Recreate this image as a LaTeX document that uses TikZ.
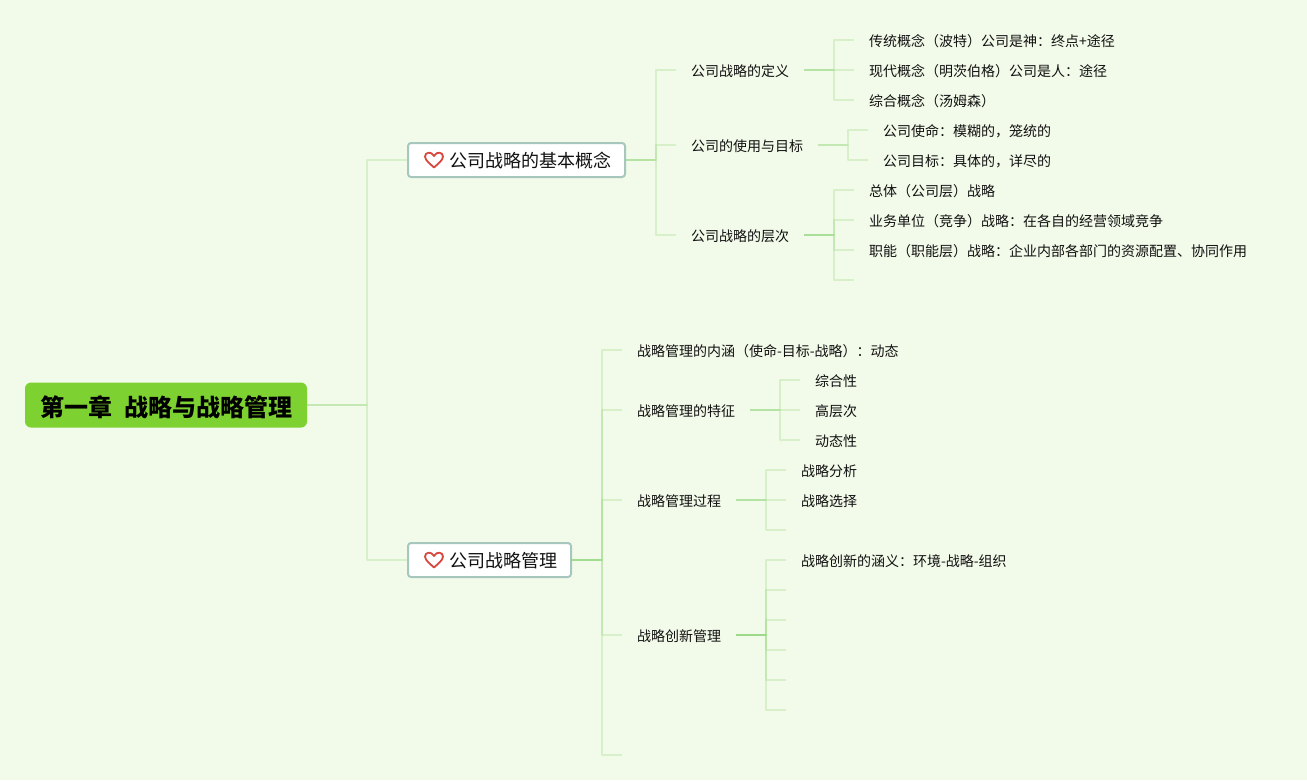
\documentclass[tikz,border=0pt]{standalone}
\usepackage{fontspec}
\setmainfont{Noto Sans CJK SC}
\definecolor{bgc}{HTML}{F2FAE9}
\definecolor{rootc}{HTML}{7DD231}
\definecolor{linec}{HTML}{8FD67A}
\definecolor{boxc}{HTML}{A6C6BE}
\definecolor{heartc}{HTML}{D8483F}
\definecolor{inkc}{HTML}{111111}
\tikzset{
  x=1pt,y=-1pt,
  link/.style={draw=linec,draw opacity=.27,line width=2pt,line join=round},
  rootnode/.style={anchor=west,fill=rootc,rounded corners=6pt,inner xsep=15pt,inner ysep=0pt,minimum height=45pt,outer sep=0pt,text height=24pt,text depth=1.8pt,font=\fontsize{24pt}{28pt}\selectfont\bfseries,text=black},
  mainnode/.style={anchor=west,draw=boxc,fill=white,line width=2pt,rounded corners=3pt,inner xsep=14pt,inner ysep=0pt,minimum height=34pt,text height=18pt,text depth=2.3pt,font=\fontsize{18pt}{22pt}\selectfont,text=inkc},
  leaf/.style={anchor=west,inner xsep=15pt,inner ysep=0pt,outer sep=0pt,text height=15pt,text depth=2pt,font=\fontsize{14pt}{18pt}\selectfont,text=inkc},
  heart/.style={draw=heartc,line width=1.8pt,line join=round}
}
\newcommand{\branch}[3]{\draw[link] (#1) -- ++(#3,0) |- (#2);}
\newcommand{\heartat}[2]{\draw[heart,shift={(#1,#2)}] (0,7.5) .. controls (-3,4.5) and (-9,0.5) .. (-9,-3.5) .. controls (-9,-8) and (-2.5,-9) .. (0,-4) .. controls (2.5,-9) and (9,-8) .. (9,-3.5) .. controls (9,0.5) and (3,4.5) .. (0,7.5) -- cycle;}
\begin{document}
\begin{tikzpicture}
\fill[bgc] (0,0) rectangle (1307,780);
\useasboundingbox (0,0) rectangle (1307,780);

\node[rootnode] (root) at (25,405) {第一章\hspace{13pt}战略与战略管理\hspace*{-1pt}};
\node[mainnode] (m1) at (407,160) {\hspace*{27pt}公司战略的基本概念};
\node[mainnode] (m2) at (407,560) {\hspace*{27pt}公司战略管理};
\heartat{434}{160}
\heartat{434}{560}

% first main branch
\node[leaf] (a1) at (676,70) {公司战略的定义};
\node[leaf] (a2) at (676,145) {公司的使用与目标};
\node[leaf] (a3) at (676,235) {公司战略的层次};
\node[leaf] (a11) at (854,40) {传统概念（波特）公司是神：终点+途径};
\node[leaf] (a12) at (854,70) {现代概念（明茨伯格）公司是人：途径};
\node[leaf] (a13) at (854,100) {综合概念（汤姆森）};
\node[leaf] (a21) at (868,130) {公司使命：模糊的，笼统的};
\node[leaf] (a22) at (868,160) {公司目标：具体的，详尽的};
\node[leaf] (a31) at (854,190) {总体（公司层）战略};
\node[leaf] (a32) at (854,220) {业务单位（竞争）战略：在各自的经营领域竞争};
\node[leaf] (a33) at (854,250) {职能（职能层）战略：企业内部各部门的资源配置、协同作用};
\coordinate (a34) at (854,280);

% second main branch
\node[leaf] (b1) at (622,350) {战略管理的内涵（使命-目标-战略）：动态};
\node[leaf] (b2) at (622,410) {战略管理的特征};
\node[leaf] (b3) at (622,500) {战略管理过程};
\node[leaf] (b4) at (622,635) {战略创新管理};
\coordinate (b5) at (622,755);
\node[leaf] (b21) at (800,380) {综合性};
\node[leaf] (b22) at (800,410) {高层次};
\node[leaf] (b23) at (800,440) {动态性};
\node[leaf] (b31) at (786,470) {战略分析};
\node[leaf] (b32) at (786,500) {战略选择};
\coordinate (b33) at (786,530);
\node[leaf] (b41) at (786,560) {战略创新的涵义：环境-战略-组织};
\coordinate (b42) at (786,590);
\coordinate (b43) at (786,620);
\coordinate (b44) at (786,650);
\coordinate (b45) at (786,680);
\coordinate (b46) at (786,710);

% connectors
\branch{root.east}{m1.west}{60}
\branch{root.east}{m2.west}{60}
\branch{m1.east}{a1.west}{30}
\branch{m1.east}{a2.west}{30}
\branch{m1.east}{a3.west}{30}
\branch{a1.east}{a11.west}{30}
\branch{a1.east}{a12.west}{30}
\branch{a1.east}{a13.west}{30}
\branch{a2.east}{a21.west}{30}
\branch{a2.east}{a22.west}{30}
\branch{a3.east}{a31.west}{30}
\branch{a3.east}{a32.west}{30}
\branch{a3.east}{a33.west}{30}
\branch{a3.east}{a34}{30}
\branch{m2.east}{b1.west}{30}
\branch{m2.east}{b2.west}{30}
\branch{m2.east}{b3.west}{30}
\branch{m2.east}{b4.west}{30}
\branch{m2.east}{b5}{30}
\branch{b2.east}{b21.west}{30}
\branch{b2.east}{b22.west}{30}
\branch{b2.east}{b23.west}{30}
\branch{b3.east}{b31.west}{30}
\branch{b3.east}{b32.west}{30}
\branch{b3.east}{b33}{30}
\branch{b4.east}{b41.west}{30}
\branch{b4.east}{b42}{30}
\branch{b4.east}{b43}{30}
\branch{b4.east}{b44}{30}
\branch{b4.east}{b45}{30}
\branch{b4.east}{b46}{30}
\end{tikzpicture}
\end{document}
